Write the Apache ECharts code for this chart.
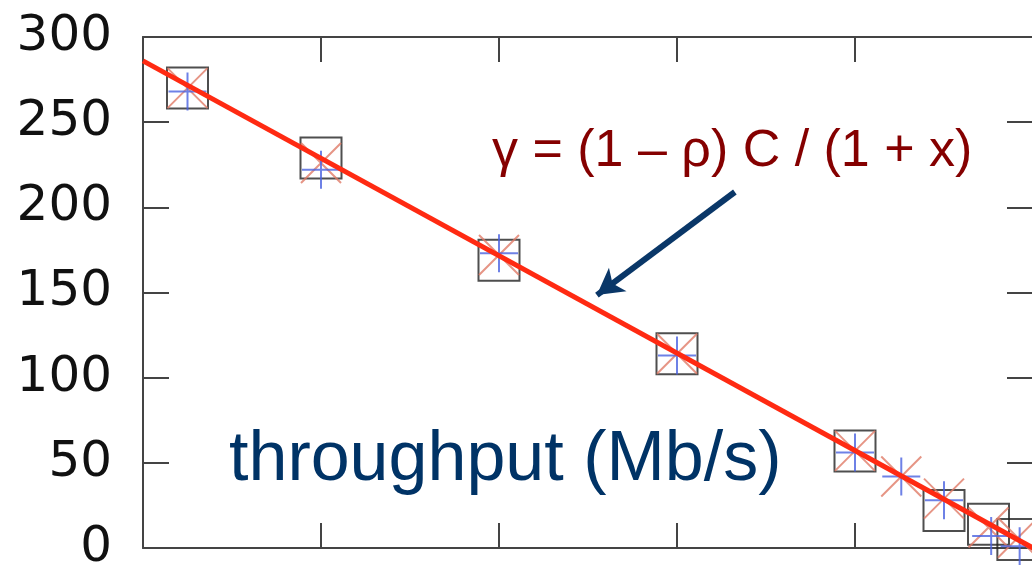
<!DOCTYPE html>
<html>
<head>
<meta charset="utf-8">
<script src="https://cdn.jsdelivr.net/npm/echarts@6/dist/echarts.min.js"></script>
<style>
html,body{margin:0;padding:0;background:#fff;}
#chart{width:1032px;height:565px;}
</style>
</head>
<body>
<div id="chart"></div>
<script>
// Data (x = rho, y = throughput Mb/s)
const yTicks = [0, 50, 100, 150, 200, 250, 300];
const squareX = [0.05, 0.2, 0.4, 0.6, 0.8, 0.9, 0.95, 0.983];
const squareY = [270, 229, 169, 114, 57, 22, 14, 5];
const crossX = [0.05, 0.2, 0.4, 0.6, 0.8, 0.852, 0.9, 0.95, 0.983];
const crossY = [270, 226, 172, 114, 57, 42, 29, 12, 6];
const plusX = [0.05, 0.2, 0.4, 0.6, 0.8, 0.852, 0.9, 0.953, 0.985];
const plusY = [268, 222, 173, 113, 56, 42, 28, 7, 1];
const modelX = [0, 1];
const modelY = [286, 0];
const formulaText = 'γ = (1 – ρ) C / (1 + x)';
const yLabelText = 'throughput (Mb/s)';

const zip = (xs, ys) => xs.map((x, i) => [x, ys[i]]);

const axisColor = '#444';
const chart = echarts.init(document.getElementById('chart'), null, {renderer: 'canvas'});

function xAx(pos) {
  return {
    type: 'value', min: 0, max: 1, interval: 0.2, position: pos, show: true,
    axisLine: {show: true, onZero: false, lineStyle: {color: axisColor, width: 2}},
    axisTick: {show: true, inside: true, length: 25, lineStyle: {color: axisColor, width: 2}},
    axisLabel: {show: false},
    splitLine: {show: false}
  };
}
function yAx(pos, labels) {
  return {
    type: 'value', min: 0, max: 300, interval: 50, position: pos, show: true,
    axisLine: {show: true, onZero: false, lineStyle: {color: axisColor, width: 2}},
    axisTick: {show: true, inside: true, length: 26, lineStyle: {color: axisColor, width: 2}},
    axisLabel: labels ? {show: true, inside: false, margin: 31, color: '#111', fontSize: 50,
        fontFamily: 'DejaVu Sans', formatter: v => yTicks.includes(v) ? String(v) : ''} : {show: false},
    splitLine: {show: false}
  };
}

chart.setOption({
  animation: false,
  backgroundColor: '#fff',
  grid: {left: 143, right: -1, top: 37, bottom: 17, containLabel: false, outerBoundsMode: 'none'},
  xAxis: [xAx('bottom'), xAx('top')],
  yAxis: [yAx('left', true), yAx('right', false)],
  series: [
    {
      type: 'scatter', data: zip(squareX, squareY), symbol: 'rect', symbolSize: 41,
      itemStyle: {color: 'rgba(0,0,0,0)', borderColor: '#222', borderWidth: 2}, z: 2, silent: true
    },
    {
      type: 'scatter', data: zip(crossX, crossY),
      symbol: 'path://M0,0L10,10M10,0L0,10', symbolSize: 40,
      itemStyle: {color: 'none', borderColor: '#e07a66', borderWidth: 2}, z: 3, silent: true
    },
    {
      type: 'scatter', data: zip(plusX, plusY),
      symbol: 'path://M5,0L5,10M0,5L10,5', symbolSize: 38,
      itemStyle: {color: 'none', borderColor: '#4a62e0', borderWidth: 2}, z: 4, silent: true
    },
    {
      type: 'line', data: zip(modelX, modelY), showSymbol: false, z: 5, silent: true,
      lineStyle: {color: '#ff2a12', width: 5},
      markLine: {
        silent: true, symbol: ['none', 'arrow'], symbolSize: [22, 26],
        label: {show: false},
        lineStyle: {color: '#0a3768', width: 6, type: 'solid'},
        data: [[{coord: [0.665, 209]}, {coord: [0.51, 148.5]}]]
      }
    }
  ],
  graphic: [
    {type: 'text', left: 492, top: 126, style: {text: formulaText, fill: '#850000',
      font: '52px "Liberation Sans", Arial, sans-serif'}},
    {type: 'text', left: 229, top: 426, style: {text: yLabelText, fill: '#003366',
      font: '70px "Liberation Sans", Arial, sans-serif'}}
  ]
});
</script>
</body>
</html>
